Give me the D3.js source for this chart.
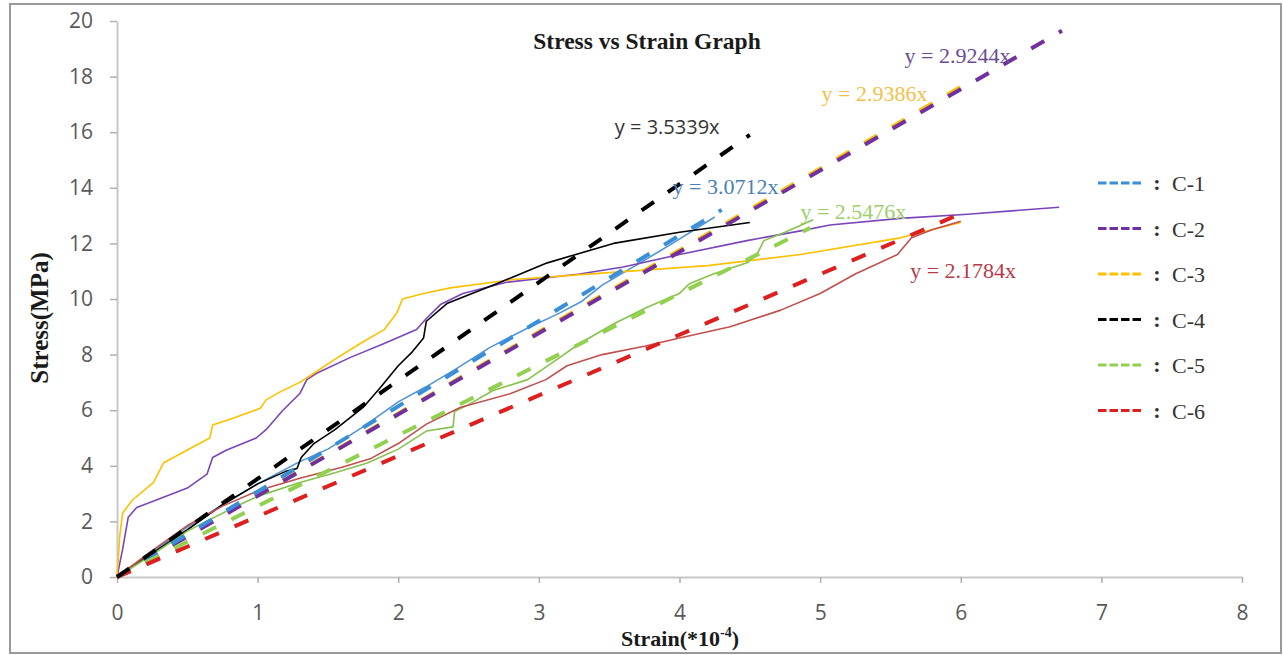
<!DOCTYPE html>
<html>
<head>
<meta charset="utf-8">
<script src="https://cdn.jsdelivr.net/npm/d3@7"></script>
<style>
  body { margin: 0; background: #fff; }
  svg { display: block; }
</style>
</head>
<body>
<script>
// series names and fitted slopes (y = k x)
var seriesNames = ["C-1", "C-2", "C-3", "C-4", "C-5", "C-6"];
var slopes      = [3.0712, 2.9244, 2.9386, 3.5339, 2.5476, 2.1784];
var fitEnds     = [4.3, 6.72, 6.0, 4.5, 4.93, 6.0];   // strain where each trend line stops

var xTicks = [0, 1, 2, 3, 4, 5, 6, 7, 8];
var yTicks = [0, 2, 4, 6, 8, 10, 12, 14, 16, 18, 20];

// measured curves [strain(*10^-4), stress(MPa)]
var curveC1 = [[0,0],[0.25,0.9],[0.5,1.8],[0.75,2.6],[1.0,3.35],[1.3,4.15],[1.5,4.6],[1.75,5.4],[2.0,6.3],
  [2.2,6.85],[2.4,7.45],[2.65,8.25],[2.9,8.9],[3.15,9.5],[3.3,9.9],[3.45,10.5],[3.72,11.3],[3.95,12.0],[4.25,12.95]];
var curveC2 = [[0,0],[0.04,1.0],[0.08,2.15],[0.14,2.5],[0.28,2.77],[0.5,3.2],[0.64,3.7],[0.68,4.3],[0.78,4.57],
  [0.99,5.0],[1.06,5.3],[1.18,6.0],[1.3,6.6],[1.35,7.1],[1.42,7.33],[1.66,7.9],[1.9,8.4],[2.13,8.9],[2.2,9.3],
  [2.3,9.8],[2.46,10.2],[2.77,10.6],[3.29,10.9],[3.6,11.15],[4.0,11.6],[4.48,12.1],[4.86,12.45],[5.07,12.66],
  [5.57,12.9],[6.05,13.05],[6.7,13.3]];
var curveC3 = [[0,0],[0.02,1.5],[0.04,2.3],[0.11,2.77],[0.26,3.4],[0.33,4.1],[0.5,4.57],[0.66,5.0],[0.68,5.47],
  [0.83,5.72],[1.02,6.07],[1.06,6.37],[1.16,6.66],[1.3,7.0],[1.4,7.33],[1.54,7.8],[1.73,8.4],[1.9,8.9],[1.99,9.5],
  [2.03,10.0],[2.18,10.2],[2.37,10.4],[2.82,10.7],[3.5,10.95],[4.2,11.2],[4.86,11.6],[5.57,12.2],[6.0,12.75]];
var curveC4 = [[0,0],[0.25,0.85],[0.5,1.7],[0.75,2.6],[1.0,3.35],[1.2,3.8],[1.28,3.9],[1.31,4.3],[1.4,4.8],
  [1.55,5.3],[1.75,6.1],[1.87,6.8],[2.0,7.6],[2.1,8.1],[2.18,8.6],[2.2,9.2],[2.35,9.85],[2.7,10.55],[3.06,11.3],
  [3.53,12.0],[4.0,12.4],[4.5,12.75]];
var curveC5 = [[0,0],[0.25,0.8],[0.5,1.65],[0.83,2.5],[1.0,2.9],[1.3,3.4],[1.55,3.75],[1.78,4.1],[2.0,4.6],
  [2.2,5.25],[2.39,5.4],[2.4,5.95],[2.5,6.2],[2.67,6.7],[2.92,7.1],[3.15,7.9],[3.29,8.4],[3.53,9.1],[3.77,9.7],
  [4.0,10.2],[4.07,10.55],[4.24,10.9],[4.48,11.3],[4.55,11.6],[4.6,12.1],[4.75,12.4],[4.95,12.85]];
var curveC6 = [[0,0],[0.25,0.95],[0.5,1.85],[0.75,2.55],[1.0,3.1],[1.3,3.55],[1.6,3.95],[1.8,4.25],[2.0,4.8],
  [2.2,5.5],[2.44,6.1],[2.8,6.6],[3.05,7.1],[3.2,7.6],[3.45,8.0],[3.75,8.3],[4.0,8.6],[4.36,9.0],[4.72,9.6],
  [5.0,10.2],[5.25,10.9],[5.55,11.6],[5.65,12.2],[5.8,12.5],[6.0,12.8]];

function ready(fn) {
  if (document.readyState != 'loading'){
    fn();
  } else {
    document.addEventListener('DOMContentLoaded', fn);
  }
}

ready(init);

function init(){

var w = 1283;
var h = 655;

var dashColors  = ["#3b8ed8", "#7030a0", "#ffc000", "#000000", "#92d050", "#dc1f1f"];
var lineColors  = ["#4f94d4", "#7a45b8", "#ffc000", "#000000", "#86c24c", "#c0504d"];
var labelColors = ["#4a7fb5", "#6a4c93", "#f2c04a", "#333333", "#9bcf6b", "#b8394a"];
var curves = [curveC1, curveC2, curveC3, curveC4, curveC5, curveC6];

// where each equation sits (data coords of text start / baseline)
var eqPos = [[3.95, 13.78], [5.6, 18.49], [5.01, 17.12], [3.54, 15.94], [4.86, 12.88], [5.64, 10.76]];

var serif = "'Liberation Serif', 'Times New Roman', serif";
var sans  = "'Open Sans', 'DejaVu Sans', sans-serif";

var svg = d3.select("body")
            .append("svg")
            .attr("width", w)
            .attr("height", h);

svg.append("rect")
   .attr("x", 10).attr("y", 4)
   .attr("width", 1271).attr("height", 649)
   .attr("fill", "#fff")
   .attr("stroke", "#9a9a9a")
   .attr("stroke-width", 2);

var x = d3.scaleLinear().domain([0, 8]).range([117, 1242]);
var y = d3.scaleLinear().domain([0, 20]).range([577, 21]);

// axes
var yAxis = svg.append("g")
               .attr("transform", "translate(" + x(0) + ",0)")
               .call(d3.axisLeft(y).tickValues(yTicks).tickSize(7).tickPadding(17).tickSizeOuter(0));

var xAxis = svg.append("g")
               .attr("transform", "translate(0," + y(0) + ")")
               .call(d3.axisBottom(x).tickValues(xTicks).tickSize(6).tickPadding(22).tickSizeOuter(0));

[xAxis, yAxis].forEach(function(a){
  a.select(".domain").attr("stroke", "#c8c8c8").attr("stroke-width", 2);
  a.selectAll(".tick line").attr("stroke", "#b0b0b0").attr("stroke-width", 1.5);
  a.selectAll(".tick text")
   .attr("fill", "#595959")
   .style("font-family", sans)
   .style("font-size", "21px");
});

// title + axis titles
svg.append("text")
   .attr("x", 647).attr("y", 49)
   .attr("text-anchor", "middle")
   .style("font-family", serif).style("font-weight", "bold").style("font-size", "23.5px")
   .attr("fill", "#1a1a1a")
   .text("Stress vs Strain Graph");

svg.append("text")
   .attr("transform", "translate(48,318) rotate(-90)")
   .attr("text-anchor", "middle")
   .style("font-family", serif).style("font-weight", "bold").style("font-size", "25px")
   .attr("fill", "#1a1a1a")
   .text("Stress(MPa)");

var xt = svg.append("text")
            .attr("x", 680).attr("y", 646)
            .attr("text-anchor", "middle")
            .style("font-family", serif).style("font-weight", "bold").style("font-size", "22px")
            .attr("fill", "#1a1a1a");
xt.append("tspan").text("Strain(*10");
xt.append("tspan").attr("dy", -9).style("font-size", "14px").text("-4");
xt.append("tspan").attr("dy", 9).text(")");

// measured curves
var line = d3.line().x(d => x(d[0])).y(d => y(d[1]));

svg.append("g")
   .selectAll("path")
   .data(curves)
   .enter()
   .append("path")
   .attr("d", line)
   .attr("fill", "none")
   .attr("stroke", (d,i) => lineColors[i])
   .attr("stroke-width", 1.6)
   .attr("stroke-linejoin", "round");

// linear fits, drawn yellow first so purple lies on top
var fitOrder = [2, 1, 0, 4, 5, 3];
svg.append("g")
   .selectAll("line")
   .data(fitOrder)
   .enter()
   .append("line")
   .attr("x1", x(0))
   .attr("y1", y(0))
   .attr("x2", i => x(fitEnds[i]))
   .attr("y2", i => y(slopes[i] * fitEnds[i]))
   .attr("stroke", i => dashColors[i])
   .attr("stroke-width", 4)
   .attr("stroke-dasharray", "15,17");

// equations
svg.append("g")
   .selectAll("text")
   .data(seriesNames)
   .enter()
   .append("text")
   .attr("x", (d,i) => x(eqPos[i][0]))
   .attr("y", (d,i) => y(eqPos[i][1]))
   .attr("fill", (d,i) => labelColors[i])
   .style("font-family", (d,i) => i == 3 ? sans : serif)
   .style("font-size", (d,i) => i == 3 ? "20px" : "22px")
   .text((d,i) => "y = " + slopes[i].toFixed(4) + "x");

// legend
var lg = svg.append("g").attr("class", "legend");
var rowY = i => 183 + i * 45.5;

lg.selectAll("line")
  .data(seriesNames)
  .enter()
  .append("line")
  .attr("x1", 1098).attr("x2", 1144)
  .attr("y1", (d,i) => rowY(i)).attr("y2", (d,i) => rowY(i))
  .attr("stroke", (d,i) => dashColors[i])
  .attr("stroke-width", 3)
  .attr("stroke-dasharray", "8.5,3");

lg.selectAll("text.colon")
  .data(seriesNames)
  .enter()
  .append("text")
  .attr("class", "colon")
  .attr("x", 1157).attr("y", (d,i) => rowY(i) + 7)
  .attr("text-anchor", "middle")
  .attr("fill", "#333")
  .style("font-family", serif).style("font-weight", "bold").style("font-size", "22px")
  .text(":");

lg.selectAll("text.name")
  .data(seriesNames)
  .enter()
  .append("text")
  .attr("class", "name")
  .attr("x", 1172).attr("y", (d,i) => rowY(i) + 8)
  .attr("fill", "#333")
  .style("font-family", serif).style("font-size", "22px")
  .text(d => d);

}//init
</script>
</body>
</html>
